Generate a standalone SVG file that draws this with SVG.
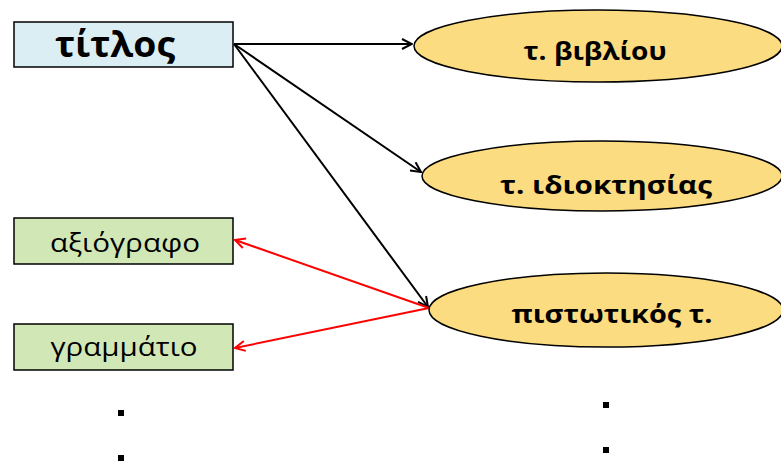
<svg xmlns="http://www.w3.org/2000/svg" width="781" height="462" viewBox="0 0 781 462">
<style>
.box{stroke:#000;stroke-width:1.5}
.ell{fill:#FCDC80;stroke:#000;stroke-width:1.5}
.bt{font-family:"Open Sans","Liberation Sans",sans-serif;font-weight:bold;text-anchor:middle;fill:#000}
.nt{font-family:"Open Sans","Liberation Sans",sans-serif;text-anchor:middle;fill:#000}
.blk{stroke:#000;stroke-width:2;fill:none;marker-end:url(#ab)}
.red{stroke:#FF0000;stroke-width:2;fill:none;marker-end:url(#ar)}
</style>
<defs>
<marker id="ab" viewBox="0 0 12 12" refX="11" refY="6" markerWidth="12" markerHeight="12" markerUnits="userSpaceOnUse" orient="auto">
<path d="M1,1 L11,6 L1,11" fill="none" stroke="#000" stroke-width="2"/>
</marker>
<marker id="ar" viewBox="0 0 12 12" refX="11" refY="6" markerWidth="12" markerHeight="12" markerUnits="userSpaceOnUse" orient="auto">
<path d="M1,1 L11,6 L1,11" fill="none" stroke="#FF0000" stroke-width="2"/>
</marker>
</defs>
<g id="connectors">
<line class="blk" x1="234" y1="44" x2="412" y2="44"/>
<line class="blk" x1="234" y1="44" x2="421" y2="172"/>
<line class="blk" x1="234" y1="44" x2="428" y2="307"/>
<line class="red" x1="429" y1="308" x2="235" y2="240"/>
<line class="red" x1="429" y1="308" x2="235" y2="348"/>
</g>
<g id="titlos">
<rect class="box" x="14" y="22" width="219" height="45" fill="#DAEEF3"/>
<text class="bt" x="115" y="57" font-size="35" textLength="120" lengthAdjust="spacingAndGlyphs">τίτλος</text>
</g>
<g id="vivliou">
<ellipse class="ell" cx="598" cy="46" rx="184" ry="36"/>
<text class="bt" x="595" y="60" font-size="25" textLength="143" lengthAdjust="spacingAndGlyphs">τ. βιβλίου</text>
</g>
<g id="idioktisias">
<ellipse class="ell" cx="602" cy="176" rx="180" ry="35"/>
<text class="bt" x="606" y="194" font-size="25" textLength="212" lengthAdjust="spacingAndGlyphs">τ. ιδιοκτησίας</text>
</g>
<g id="pistotikos">
<ellipse class="ell" cx="606" cy="310" rx="177" ry="37"/>
<text class="bt" x="612" y="323" font-size="25" textLength="201" lengthAdjust="spacingAndGlyphs">πιστωτικός τ.</text>
</g>
<g id="axiografo">
<rect class="box" x="14" y="218" width="219" height="46" fill="#D1E8B6"/>
<text class="nt" x="125" y="252" font-size="26" textLength="150" lengthAdjust="spacingAndGlyphs">αξιόγραφο</text>
</g>
<g id="grammatio">
<rect class="box" x="14" y="324" width="219" height="46" fill="#D1E8B6"/>
<text class="nt" x="124" y="356" font-size="26" textLength="147" lengthAdjust="spacingAndGlyphs">γραμμάτιο</text>
</g>
<g id="dots" fill="#000">
<rect x="118" y="410" width="6" height="6"/>
<rect x="118" y="455" width="6" height="6"/>
<rect x="603" y="402" width="6" height="6"/>
<rect x="603" y="447" width="6" height="6"/>
</g>
</svg>
